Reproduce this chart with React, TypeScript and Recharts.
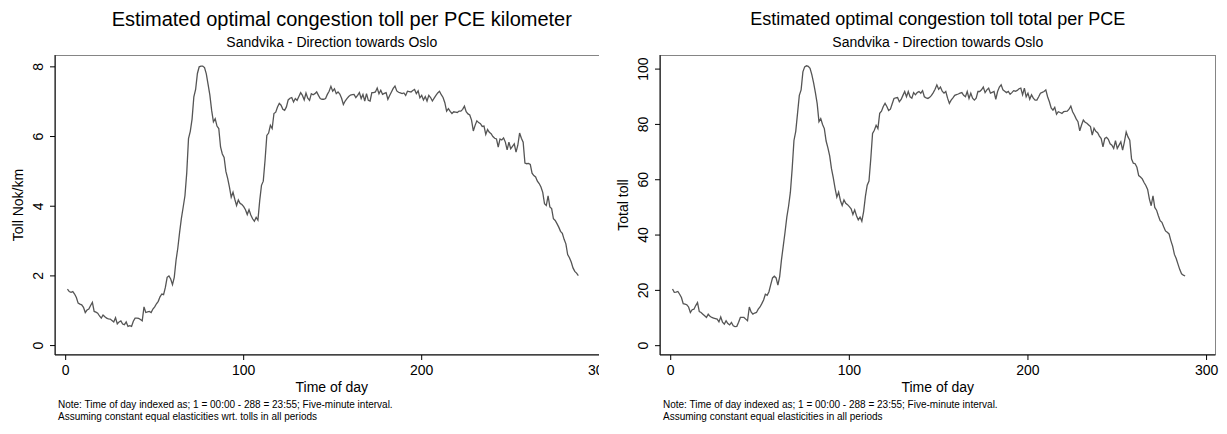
import { LineChart, Line, XAxis, YAxis } from 'recharts';

// Time of day index 1..288 (five-minute intervals)
const tollPerKm = [
  1.62, 1.55, 1.53, 1.55, 1.48, 1.38, 1.22, 1.19, 1.17, 1.10,
  0.95, 1.02, 1.05, 1.15, 1.24, 0.98, 0.96, 0.93, 0.85, 0.79,
  0.88, 0.83, 0.79, 0.77, 0.76, 0.72, 0.68, 0.80, 0.62, 0.68,
  0.71, 0.62, 0.60, 0.68, 0.55, 0.57, 0.55, 0.70, 0.79, 0.79,
  0.78, 0.75, 0.71, 1.11, 0.95, 0.97, 0.98, 0.95, 1.05, 1.11,
  1.20, 1.27, 1.40, 1.48, 1.46, 1.67, 1.96, 2.00, 1.91, 1.75,
  1.96, 2.45, 2.80, 3.25, 3.65, 3.97, 4.30, 4.95, 5.94, 6.15,
  6.50, 7.14, 7.35, 7.81, 8.00, 8.02, 8.02, 7.98, 7.80, 7.50,
  7.19, 6.75, 6.42, 6.51, 6.30, 6.23, 5.70, 5.50, 5.40, 5.00,
  4.80, 4.55, 4.26, 4.40, 4.20, 4.02, 4.18, 4.08, 4.05, 3.99,
  3.90, 3.76, 3.90, 3.75, 3.64, 3.57, 3.68, 3.60, 4.16, 4.60,
  4.72, 5.32, 6.03, 6.10, 6.32, 6.23, 6.66, 6.70, 6.85, 6.95,
  6.90, 6.78, 6.75, 6.85, 7.05, 7.10, 7.12, 6.99, 7.09, 7.04,
  7.15, 7.26, 7.18, 7.05, 7.25, 7.10, 7.04, 7.23, 7.20, 7.23,
  7.28, 7.18, 7.09, 7.07, 7.07, 7.09, 7.21, 7.30, 7.44, 7.30,
  7.37, 7.23, 7.28, 7.22, 7.10, 6.92, 7.02, 7.09, 7.15, 7.19,
  7.20, 7.21, 7.12, 7.18, 7.26, 7.09, 7.21, 7.02, 7.23, 7.04,
  7.02, 7.26, 7.26, 7.28, 7.39, 7.23, 7.33, 7.21, 7.24, 7.26,
  7.07, 7.18, 7.28, 7.38, 7.45, 7.31, 7.27, 7.25, 7.23, 7.25,
  7.18, 7.30, 7.29, 7.28, 7.32, 7.35, 7.23, 7.31, 7.11, 7.18,
  7.05, 7.15, 7.02, 7.18, 7.12, 7.02, 7.10, 7.18, 7.25, 7.30,
  7.20, 7.12, 6.97, 6.73, 6.80, 6.72, 6.66, 6.71, 6.70, 6.69,
  6.73, 6.73, 6.78, 6.87, 6.71, 6.65, 6.62, 6.47, 6.16, 6.32,
  6.45, 6.40, 6.37, 6.29, 6.30, 6.06, 6.20, 6.12, 6.08, 6.00,
  5.95, 5.93, 5.70, 5.93, 5.90, 5.96, 5.84, 5.62, 5.84, 5.65,
  5.72, 5.79, 5.55, 5.75, 6.10, 5.95, 5.84, 5.24, 5.22, 5.23,
  5.20, 4.95, 4.88, 4.84, 4.72, 4.65, 4.55, 4.40, 4.07, 4.02,
  4.30, 3.98, 3.93, 3.64, 3.59, 3.50, 3.40, 3.28, 3.22, 3.05,
  2.92, 2.61, 2.52, 2.40, 2.23, 2.13, 2.08, 2.01,
];

const tollTotal = [
  20.5, 19.3, 19.4, 19.6, 18.6, 17.4, 15.2, 15.0, 14.8, 14.0,
  12.0, 13.0, 13.2, 14.5, 15.6, 12.3, 12.0, 11.4, 10.8, 10.2,
  11.4, 10.6, 10.2, 10.0, 9.8, 9.6, 8.6, 10.4, 8.5, 7.8,
  9.0, 8.0, 7.5, 8.4, 7.2, 6.9, 7.0, 8.5, 10.2, 10.2,
  10.2, 9.6, 9.0, 14.0, 12.2, 11.4, 11.8, 12.0, 13.2, 14.0,
  15.2, 16.5, 18.6, 18.2, 19.5, 22.1, 24.5, 25.1, 24.5, 21.9,
  25.0, 31.0, 36.0, 41.0, 46.5, 50.5, 55.5, 64.0, 74.2, 77.5,
  84.0, 90.5, 92.5, 99.0, 100.8, 101.2, 101.0, 100.3, 98.0, 95.0,
  91.5, 87.5, 81.0, 82.1, 80.0, 78.5, 74.0, 71.5, 68.6, 64.0,
  60.8, 57.0, 53.7, 55.5, 52.5, 50.7, 52.7, 51.5, 51.0, 50.3,
  49.5, 47.4, 49.1, 47.0, 45.5, 46.5, 45.0, 48.5, 54.0, 58.0,
  59.5, 67.5, 76.7, 77.9, 79.7, 78.5, 84.0, 84.8, 86.5, 87.6,
  86.5, 85.0, 85.5, 87.5, 89.4, 89.6, 89.7, 88.2, 89.0, 90.5,
  91.9, 90.0, 91.9, 90.0, 89.5, 91.5, 90.7, 91.5, 91.9, 91.3,
  92.2, 90.0, 89.6, 89.4, 89.8, 90.5, 91.5, 92.7, 94.3, 92.7,
  93.5, 92.0, 91.3, 91.9, 89.5, 87.6, 88.8, 89.6, 90.5, 90.8,
  91.0, 91.3, 91.5, 90.5, 90.0, 91.9, 89.4, 91.3, 89.5, 88.8,
  89.5, 91.9, 91.9, 92.5, 93.5, 91.5, 92.5, 93.1, 91.3, 91.6,
  91.9, 89.1, 91.9, 93.5, 94.3, 92.5, 92.0, 91.5, 91.9, 90.9,
  91.5, 92.2, 92.0, 92.3, 92.9, 93.1, 90.7, 93.1, 90.0, 91.3,
  89.1, 90.7, 89.5, 88.8, 88.8, 90.0, 91.3, 91.6, 91.9, 92.5,
  90.0, 88.2, 86.0, 85.2, 86.2, 83.7, 84.6, 84.3, 84.0, 84.6,
  84.7, 84.8, 85.5, 86.6, 84.6, 83.4, 82.0, 81.0, 77.7, 79.8,
  81.6, 80.8, 80.4, 79.8, 79.2, 76.1, 78.6, 77.5, 77.0, 75.8,
  74.9, 71.9, 74.9, 75.3, 74.6, 73.0, 72.5, 71.3, 74.1, 71.3,
  72.5, 73.7, 70.7, 73.7, 77.3, 75.5, 74.3, 67.5, 66.0, 65.8,
  64.5, 61.5, 61.0, 60.3, 59.0, 57.9, 56.5, 53.0, 50.6, 54.2,
  50.0, 49.0, 47.0, 45.2, 44.6, 43.0, 41.5, 41.0, 40.4, 38.0,
  36.0, 33.0, 31.5, 29.5, 27.5, 26.0, 25.5, 25.2,
];

const xTicks = [0, 100, 200, 300];
const perKmTicks = [0, 2, 4, 6, 8];
const totalTicks = [0, 20, 40, 60, 80, 100];

const FONT = '"Liberation Sans", Arial, Helvetica, sans-serif';
const CHART_H = 434;
const PLOT_TOP = 55;
const PLOT_BOTTOM = 355;
const Y_AXIS_W = 55;

function RotatedTick(props: any) {
  const { x, y, payload } = props;
  const tx = x - 5;
  return (
    <text
      x={tx}
      y={y}
      transform={`rotate(-90 ${tx} ${y})`}
      textAnchor="middle"
      fontSize={14}
      fontFamily={FONT}
      fill="#000"
    >
      {payload.value}
    </text>
  );
}

interface PanelProps {
  left: number;
  width: number;
  clip: number;
  rightPad: number;
  title: string;
  titleSize: number;
  titleShift: number;
  yLabel: string;
  note: string;
  data: { t: number; v: number }[];
  yTicks: number[];
  yDomain: [number, number];
}

function Panel({
  left, width, clip, rightPad, title, titleSize, titleShift, yLabel, note, data, yTicks, yDomain,
}: PanelProps) {
  const plotLeft = Y_AXIS_W;
  const plotRight = width - rightPad;
  const plotCenter = (plotLeft + plotRight) / 2;
  return (
    <div
      style={{
        position: 'absolute',
        left,
        top: 0,
        width: clip,
        height: CHART_H,
        overflow: 'hidden',
        fontFamily: FONT,
        color: '#000',
      }}
    >
      <div
        style={{
          position: 'absolute',
          left: plotCenter + titleShift,
          top: 19,
          transform: 'translate(-50%, -50%)',
          whiteSpace: 'nowrap',
          fontSize: titleSize,
        }}
      >
        {title}
      </div>
      <div
        style={{
          position: 'absolute',
          left: plotCenter,
          top: 42,
          transform: 'translate(-50%, -50%)',
          whiteSpace: 'nowrap',
          fontSize: 14,
        }}
      >
        Sandvika - Direction towards Oslo
      </div>
      {/* plot region outline */}
      <div
        style={{
          position: 'absolute',
          left: plotLeft,
          top: PLOT_TOP,
          width: plotRight - plotLeft,
          height: PLOT_BOTTOM - PLOT_TOP,
          border: '1.5px solid #858585',
          boxSizing: 'border-box',
        }}
      />
      <div style={{ position: 'absolute', left: 0, top: 0 }}>
        <LineChart
          width={width}
          height={CHART_H}
          data={data}
          margin={{ top: PLOT_TOP, right: rightPad, bottom: 0, left: 0 }}
        >
          <XAxis
            dataKey="t"
            type="number"
            domain={[-6, 305]}
            allowDataOverflow
            ticks={xTicks}
            interval={0}
            height={CHART_H - PLOT_BOTTOM}
            tickSize={5}
            tickMargin={5}
            stroke="#000"
            tick={{ fontSize: 14, fill: '#000', fontFamily: FONT }}
          />
          <YAxis
            type="number"
            domain={yDomain}
            allowDataOverflow
            ticks={yTicks}
            interval={0}
            width={Y_AXIS_W}
            tickSize={5}
            stroke="#000"
            tick={<RotatedTick />}
          />
          <Line
            dataKey="v"
            type="linear"
            stroke="#555555"
            strokeWidth={1.3}
            dot={false}
            isAnimationActive={false}
          />
        </LineChart>
      </div>
      <div
        style={{
          position: 'absolute',
          left: 18,
          top: (PLOT_TOP + PLOT_BOTTOM) / 2,
          transform: 'translate(-50%, -50%) rotate(-90deg)',
          whiteSpace: 'nowrap',
          fontSize: 14,
        }}
      >
        {yLabel}
      </div>
      <div
        style={{
          position: 'absolute',
          left: plotCenter,
          top: 387,
          transform: 'translate(-50%, -50%)',
          whiteSpace: 'nowrap',
          fontSize: 14,
        }}
      >
        Time of day
      </div>
      <div
        style={{
          position: 'absolute',
          left: plotLeft + 3,
          top: 399,
          fontSize: 10,
          lineHeight: '12px',
          whiteSpace: 'nowrap',
        }}
      >
        <div>Note: Time of day indexed as; 1 = 00:00 - 288 = 23:55; Five-minute interval.</div>
        <div>{note}</div>
      </div>
    </div>
  );
}

export default function App() {
  const perKmData = tollPerKm.map((v, i) => ({ t: i + 1, v }));
  const totalData = tollTotal.map((v, i) => ({ t: i + 1, v }));
  return (
    <div
      style={{
        position: 'fixed',
        left: 0,
        top: 0,
        width: 1227,
        height: 434,
        background: '#fff',
        overflow: 'hidden',
      }}
    >
      <Panel
        left={0}
        width={620}
        clip={599}
        rightPad={11.4}
        title="Estimated optimal congestion toll per PCE kilometer"
        titleSize={20}
        titleShift={10}
        yLabel="Toll Nok/km"
        note="Assuming constant equal elasticities wrt. tolls in all periods"
        data={perKmData}
        yTicks={perKmTicks}
        yDomain={[-0.27, 8.34]}
      />
      <Panel
        left={605}
        width={622}
        clip={622}
        rightPad={11.5}
        title="Estimated optimal congestion toll total per PCE"
        titleSize={18}
        titleShift={0}
        yLabel="Total toll"
        note="Assuming constant equal elasticities in all periods"
        data={totalData}
        yTicks={totalTicks}
        yDomain={[-3.37, 105.1]}
      />
    </div>
  );
}
